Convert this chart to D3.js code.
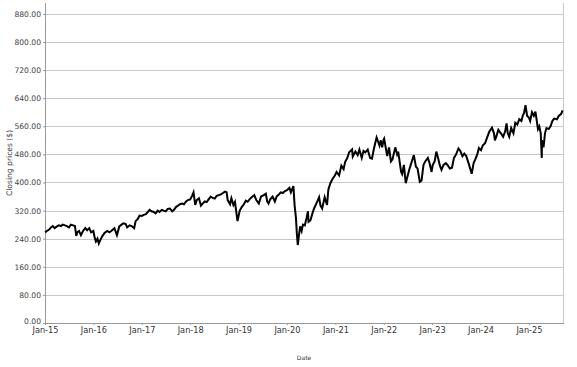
<!DOCTYPE html>
<html><head><meta charset="utf-8">
<script src="https://cdn.jsdelivr.net/npm/d3@7"></script>
<style>
html,body{margin:0;padding:0;background:#fff;}
svg{display:block;}
text{font-family:"DejaVu Sans",sans-serif;}
</style></head>
<body>
<svg id="chart" width="577" height="367"></svg>
<script>
const dates = [
"2015-01-02","2015-01-15","2015-02-01","2015-02-15","2015-03-01","2015-03-15","2015-04-01","2015-04-15","2015-05-01","2015-05-15","2015-06-01","2015-06-15","2015-07-01","2015-07-15","2015-08-01","2015-08-15","2015-08-25","2015-09-01","2015-09-15","2015-09-29","2015-10-15","2015-11-01","2015-11-15","2015-12-01","2015-12-15",
"2016-01-01","2016-01-10","2016-01-20","2016-02-01","2016-02-11","2016-02-25","2016-03-10","2016-03-25","2016-04-15","2016-05-01","2016-05-15","2016-06-08","2016-06-27","2016-07-15","2016-08-01","2016-08-15","2016-09-01","2016-09-12","2016-10-01","2016-10-15","2016-11-04","2016-11-15","2016-12-01","2016-12-15",
"2017-01-01","2017-01-15","2017-02-01","2017-02-15","2017-03-01","2017-03-15","2017-04-01","2017-04-15","2017-05-01","2017-05-15","2017-06-01","2017-06-15","2017-07-01","2017-07-15","2017-08-01","2017-08-18","2017-09-01","2017-09-15","2017-10-01","2017-10-15","2017-11-01","2017-11-15","2017-12-01","2017-12-15",
"2018-01-01","2018-01-15","2018-01-26","2018-02-08","2018-02-20","2018-03-08","2018-03-23","2018-04-05","2018-04-20","2018-05-05","2018-05-20","2018-06-05","2018-06-20","2018-07-05","2018-07-20","2018-08-05","2018-08-20","2018-09-05","2018-09-20","2018-10-03","2018-10-11","2018-10-29","2018-11-08","2018-11-23","2018-12-05","2018-12-24",
"2019-01-10","2019-01-25","2019-02-10","2019-02-25","2019-03-10","2019-03-25","2019-04-10","2019-04-30","2019-05-15","2019-06-03","2019-06-20","2019-07-10","2019-07-26","2019-08-05","2019-08-15","2019-08-28","2019-09-15","2019-10-02","2019-10-15","2019-11-01","2019-11-15","2019-12-01","2019-12-15",
"2020-01-01","2020-01-20","2020-01-31","2020-02-19","2020-02-28","2020-03-09","2020-03-16","2020-03-23","2020-04-01","2020-04-10","2020-04-21","2020-05-01","2020-05-15","2020-05-29","2020-06-08","2020-06-12","2020-06-26","2020-07-10","2020-07-24","2020-08-10","2020-08-31","2020-09-10","2020-09-23","2020-10-12","2020-10-30","2020-11-09","2020-11-24","2020-12-10","2020-12-28",
"2021-01-10","2021-01-29","2021-02-15","2021-03-04","2021-03-15","2021-04-01","2021-04-15","2021-05-07","2021-05-12","2021-06-01","2021-06-18","2021-07-01","2021-07-19","2021-08-01","2021-08-15","2021-09-02","2021-09-20","2021-10-04","2021-10-20","2021-11-08","2021-11-30","2021-12-10","2021-12-20","2021-12-31",
"2022-01-04","2022-01-27","2022-02-10","2022-02-24","2022-03-08","2022-03-29","2022-04-12","2022-04-20","2022-05-12","2022-05-20","2022-06-02","2022-06-16","2022-07-01","2022-07-15","2022-08-01","2022-08-16","2022-09-01","2022-09-13","2022-09-30","2022-10-13","2022-10-28","2022-11-10","2022-11-30","2022-12-13","2022-12-28",
"2023-01-06","2023-01-20","2023-02-02","2023-02-15","2023-03-01","2023-03-13","2023-03-28","2023-04-15","2023-05-01","2023-05-15","2023-05-31","2023-06-15","2023-07-01","2023-07-19","2023-08-02","2023-08-18","2023-09-01","2023-09-15","2023-10-03","2023-10-27","2023-11-10","2023-11-22","2023-12-08","2023-12-20",
"2024-01-05","2024-01-19","2024-02-05","2024-02-22","2024-03-08","2024-03-28","2024-04-12","2024-04-19","2024-05-03","2024-05-15","2024-06-03","2024-06-20","2024-07-05","2024-07-16","2024-07-25","2024-08-05","2024-08-20","2024-09-06","2024-09-20","2024-10-05","2024-10-20","2024-11-05","2024-11-15","2024-11-25","2024-12-06","2024-12-18","2024-12-31",
"2025-01-10","2025-01-24","2025-02-07","2025-02-19","2025-03-10","2025-03-20","2025-03-31","2025-04-08","2025-04-09","2025-04-21","2025-05-02","2025-05-13","2025-05-30","2025-06-13","2025-06-27","2025-07-10","2025-07-31","2025-08-15","2025-09-01","2025-09-12"
];
const closes = [
258,262,266,272,276,270,275,278,276,280,278,276,272,280,278,276,248,258,262,250,262,270,264,270,258,
262,245,232,240,226,238,248,256,262,258,262,270,250,275,280,284,282,272,278,276,270,290,296,306,
305,308,310,316,322,318,316,312,320,316,322,320,318,325,326,318,322,330,334,338,340,338,346,350,
352,362,372,336,350,355,334,340,346,344,352,360,356,354,362,364,366,370,374,372,350,338,355,336,345,290,
320,330,338,348,345,352,358,364,350,340,360,364,368,346,340,352,360,346,360,366,372,370,375,
378,385,372,390,335,300,255,222,250,275,262,280,278,300,318,288,292,310,326,340,358,335,326,358,336,380,398,410,420,
430,420,448,438,458,470,486,494,474,488,478,494,470,490,486,494,470,468,498,528,505,520,500,522,
525,475,500,460,466,500,480,488,430,424,450,398,420,440,460,478,445,440,402,405,450,460,470,455,430,
450,460,488,470,448,436,450,455,448,440,442,470,480,497,490,475,482,476,455,425,455,465,480,498,
492,506,512,530,545,556,540,520,535,550,540,530,545,568,540,530,555,540,570,565,580,575,590,598,620,590,585,
575,600,590,602,552,560,540,470,520,500,540,555,552,560,575,582,580,590,595,605
];
const yTicks = [0,80,160,240,320,400,480,560,640,720,800,880];
const xTickYears = [2015,2016,2017,2018,2019,2020,2021,2022,2023,2024,2025];

const parse = d3.timeParse("%Y-%m-%d");
const data = dates.map((d,i)=>({date:parse(d), value:closes[i]}));

const svg = d3.select("#chart");
const L = 45, R = 563, T = 3, B = 323;

const x = d3.scaleTime().domain([new Date(2015,0,1), new Date(2025,8,15)]).range([L,R]);
const y = d3.scaleLinear().domain([0,911]).range([B,T]);

// gridlines
svg.append("g").selectAll("line").data(yTicks.filter(v=>v>0)).join("line")
  .attr("x1",L).attr("x2",R).attr("y1",d=>Math.round(y(d))+0.5).attr("y2",d=>Math.round(y(d))+0.5)
  .attr("stroke","#c8c8c8").attr("stroke-width",1);

// right border
svg.append("line").attr("x1",R+0.5).attr("x2",R+0.5).attr("y1",T).attr("y2",B)
  .attr("stroke","#c8c8c8");

// y axis
const yAxis = d3.axisLeft(y).tickValues(yTicks).tickFormat(d3.format(".2f")).tickSize(2).tickPadding(2);
const gy = svg.append("g").attr("transform",`translate(${L},0)`).call(yAxis);
gy.select(".domain").attr("stroke","#999").attr("d",`M0.5,${T}V${B}`);
gy.selectAll(".tick line").attr("stroke","#999");
gy.selectAll(".tick text").attr("fill","#444").style("font-size","7.6px");
gy.selectAll(".tick").filter(d=>d===0).select("text").attr("dy","0.1em");

// x axis
const xAxis = d3.axisBottom(x).tickValues(xTickYears.map(yr=>new Date(yr,0,1)))
  .tickFormat(d3.timeFormat("Jan-%y")).tickSize(2).tickPadding(2);
const gx = svg.append("g").attr("transform",`translate(0,${B})`).call(xAxis);
gx.select(".domain").attr("stroke","#999").attr("d",`M${L},0.5H${R+1}`);
gx.selectAll(".tick line").attr("stroke","#999");
gx.selectAll(".tick text").attr("fill","#333").style("font-size","8.2px");

// line
svg.append("path").datum(data)
  .attr("fill","none").attr("stroke","#000").attr("stroke-width",2)
  .attr("stroke-linejoin","miter")
  .attr("d", d3.line().x(d=>x(d.date)).y(d=>y(d.value)));

// axis titles
svg.append("text").attr("transform","translate(12,163) rotate(-90)")
  .attr("text-anchor","middle").attr("fill","#333").style("font-size","7.6px")
  .text("Closing prices ($)");
svg.append("text").attr("x",304).attr("y",360)
  .attr("text-anchor","middle").attr("fill","#333").style("font-size","6px")
  .text("Date");
</script>
</body></html>
